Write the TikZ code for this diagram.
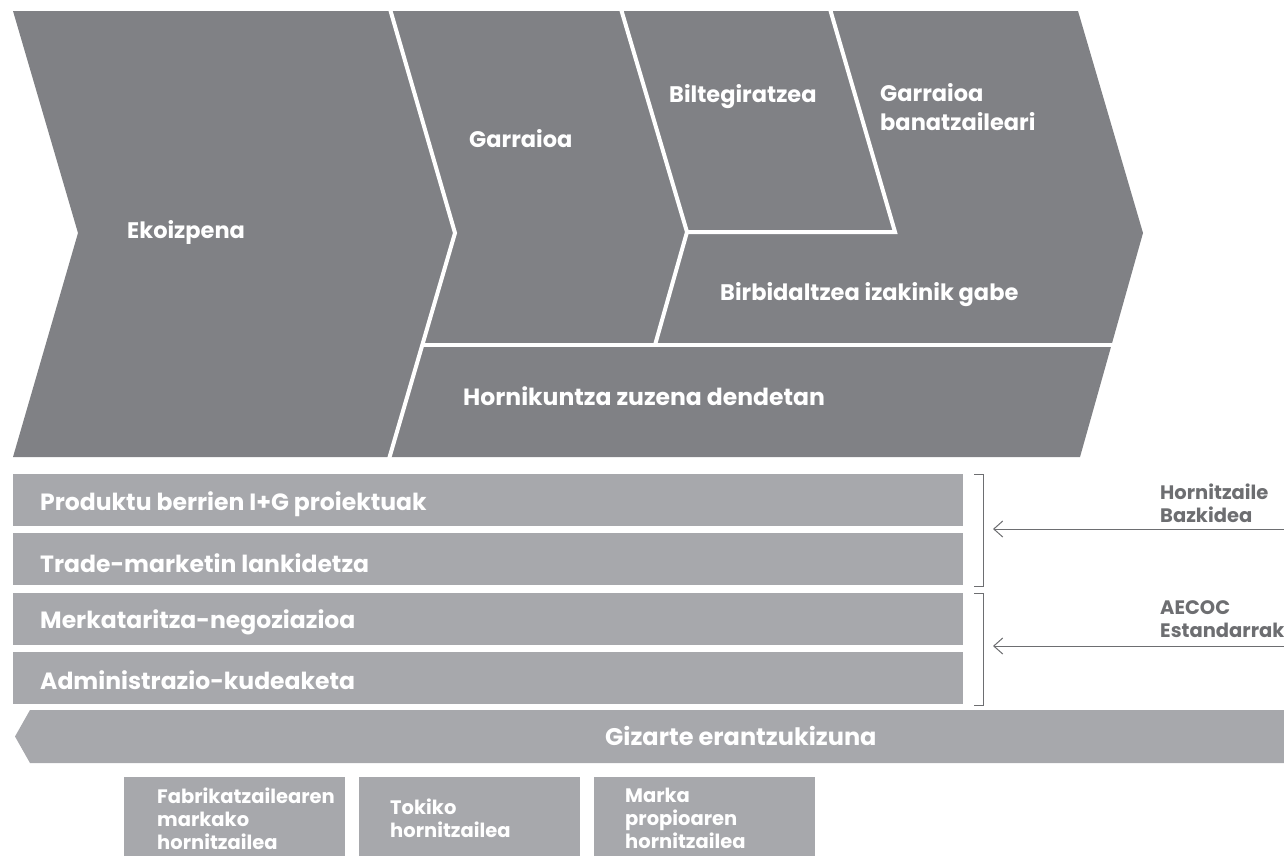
\documentclass[tikz,border=0pt]{standalone}
\usepackage{fontspec}
\setmainfont{Poppins}
\usetikzlibrary{arrows.meta}
\definecolor{topgray}{HTML}{808185}
\definecolor{bargray}{HTML}{A7A8AC}
\definecolor{labgray}{HTML}{6D6E71}
\tikzset{
  sep/.style={white, line width=4pt, line join=miter},
  wtext/.style={text=white, font=\bfseries\fontsize{22.5}{29}\selectfont, inner sep=0pt, anchor=base west, align=left},
  bartext/.style={wtext, font=\bfseries\fontsize{23.5}{29}\selectfont},
  smalltext/.style={text=white, font=\bfseries\fontsize{19.5}{23}\selectfont, inner sep=0pt, anchor=base west, align=left},
  labtext/.style={text=labgray, font=\bfseries\fontsize{19.5}{23}\selectfont, inner sep=0pt, anchor=base west, align=left},
  barbox/.style={fill=bargray, draw=none, anchor=north west, minimum width=950pt, minimum height=52pt, inner sep=0pt},
  lowbox/.style={fill=bargray, draw=none, anchor=north west, minimum width=221pt, minimum height=80pt, inner sep=0pt},
  bracket/.style={draw=labgray, line width=1pt},
  arr/.style={draw=labgray, line width=1pt, -{Straight Barb[length=9pt,width=16pt,line width=1pt]}}
}
\begin{document}
\begin{tikzpicture}[x=1pt,y=-1pt]
\useasboundingbox (0,0) rectangle (1284,855);
% top chevron
\fill[topgray] (13,11) -- (1078,11) -- (1143,233) -- (1080,457) -- (13,457) -- (78,233) -- cycle;
\draw[sep] (390,9) -- (455,233) -- (389,459);
\draw[sep] (423,345) -- (1116,345);
\draw[sep] (621,9) -- (687,232) -- (655,345);
\draw[sep] (687,232) -- (895,232) -- (830,9);
\node[wtext] (ekoiz) at (127,238.5) {Ekoizpena};
\node[wtext] (garr) at (469,147.5) {Garraioa};
\node[wtext] (bilt) at (669,102.5) {Biltegiratzea};
\node[wtext] (garrban) at (880,130.5) {Garraioa\\banatzaileari};
\node[wtext] (birb) at (720,300.5) {Birbidaltzea izakinik gabe};
\node[bartext] (horn) at (463,405.5) {Hornikuntza zuzena dendetan};
% bars
\node[barbox] (b1) at (13,474) {};
\node[barbox] (b2) at (13,533) {};
\node[barbox] (b3) at (13,593) {};
\node[barbox] (b4) at (13,652) {};
\node[bartext] (t1) at (40,510) {Produktu berrien I+G proiektuak};
\node[bartext] (t2) at (40,572.5) {Trade-marketin lankidetza};
\node[bartext] (t3) at (40,628) {Merkataritza-negoziazioa};
\node[bartext] (t4) at (40,689.5) {Administrazio-kudeaketa};
% brackets
\coordinate (br1t) at (974,474);
\coordinate (br1b) at (974,586);
\coordinate (br2t) at (974,593);
\coordinate (br2b) at (974,705);
\draw[bracket] (br1t) -- ++(9,0) coordinate (br1m) -- (br1m |- br1b) -- (br1b);
\draw[bracket] (br2t) -- ++(9,0) coordinate (br2m) -- (br2m |- br2b) -- (br2b);
% arrows
\coordinate (a1s) at (1284,529);
\coordinate (a1e) at (993,529);
\coordinate (a2s) at (1284,646);
\coordinate (a2e) at (993,646);
\draw[arr] (a1s) -- (a1e);
\draw[arr] (a2s) -- (a2e);
\node[labtext] (hb) at (1160,522) {Hornitzaile\\Bazkidea};
\node[labtext] (ae) at (1160,637.5) {AECOC\\Estandarrak};
% social responsibility band
\fill[bargray] (30,710) -- (1284,710) -- (1284,763) -- (30,763) -- (15,736.5) -- cycle;
\node[bartext, font=\bfseries\fontsize{24}{29}\selectfont] (giz) at (605,745) {Gizarte erantzukizuna};
% bottom boxes
\node[lowbox] (l1) at (124,777) {};
\node[lowbox] (l2) at (359,777) {};
\node[lowbox] (l3) at (594,777) {};
\node[smalltext] (lt1) at (157,849) {Fabrikatzailearen\\markako\\hornitzailea};
\node[smalltext] (lt2) at (390,837) {Tokiko\\hornitzailea};
\node[smalltext] (lt3) at (625,848) {Marka\\propioaren\\hornitzailea};
\end{tikzpicture}
\end{document}
